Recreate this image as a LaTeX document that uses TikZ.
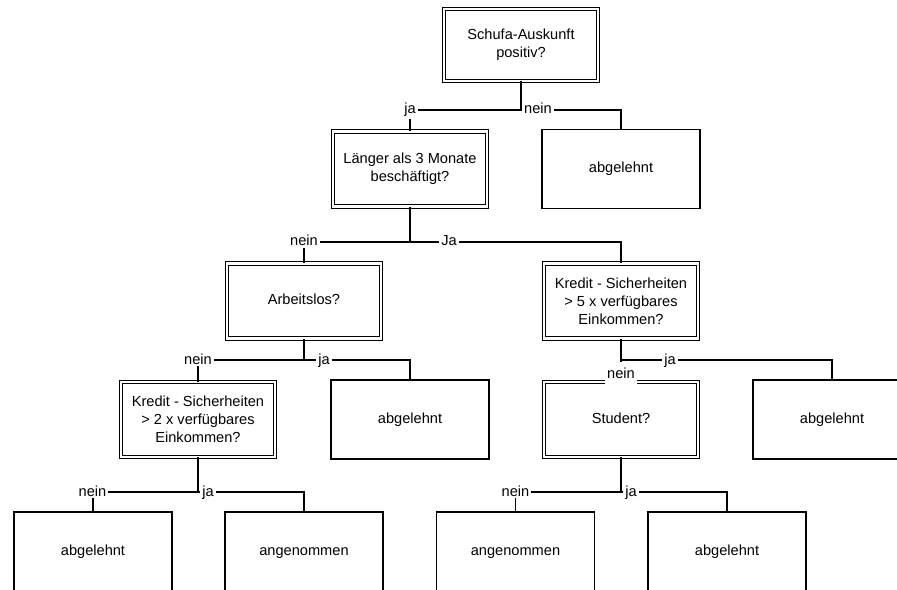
\documentclass[tikz,border=0pt]{standalone}
\usepackage{fontspec}
\setmainfont{Liberation Sans}
\begin{document}
\begin{tikzpicture}[x=1bp,y=-1bp,
  txt/.style={font=\fontsize{14.6bp}{18bp}\selectfont},
  box/.style={txt, draw, line width=1.2bp, minimum width=158bp, minimum height=79bp, align=center, inner sep=2bp},
  dbox/.style={box, double, line width=0.95bp, double distance=2.3bp, minimum width=154bp, minimum height=75bp},
  one/.style={text height=10.5bp, text depth=3bp},
  lbl/.style={txt, fill=white, inner xsep=2bp, inner ysep=1.5bp, anchor=base},
  conn/.style={line width=1.2bp}]
\useasboundingbox (0,0) rectangle (897,590);
\clip (0,0) rectangle (897,590);

% nodes
\node[dbox, minimum height=72bp] (A) at (521,45) {Schufa-Auskunft\\positiv?};
\node[dbox] (B) at (410,169) {Länger als 3 Monate\\beschäftigt?};
\node[box, one] (C) at (621,169) {abgelehnt};
\node[dbox, one] (D) at (304,301) {Arbeitslos?};
\node[dbox] (E) at (621,301) {Kredit - Sicherheiten\\> 5 x verfügbares\\Einkommen?};
\node[dbox] (F) at (198,419.5) {Kredit - Sicherheiten\\> 2 x verfügbares\\Einkommen?};
\node[box, one] (G) at (410,419.5) {abgelehnt};
\node[dbox, one] (H) at (621,419.5) {Student?};
\node[box, one] (I) at (832,419.5) {abgelehnt};
\node[box, one] (J) at (93,551.5) {abgelehnt};
\node[box, one] (K) at (304,551.5) {angenommen};
\node[box, one] (L) at (515.5,551.5) {angenommen};
\node[box, one] (M) at (727,551.5) {abgelehnt};

% junctions
\coordinate (jA) at (A.south |- 0,110);
\coordinate (jB) at (B.south |- 0,242);
\coordinate (jD) at (D.south |- 0,360);
\coordinate (jE) at (E.south |- 0,360);
\coordinate (jF) at (F.south |- 0,492);
\coordinate (jH) at (H.south |- 0,492);

% connectors
\draw[conn] (A.south) -- (jA) -| (B.north);
\draw[conn] (jA) -| (C.north);
\draw[conn] (B.south) -- (jB) -| (D.north);
\draw[conn] (jB) -| (E.north);
\draw[conn] (D.south) -- (jD) -| (F.north);
\draw[conn] (jD) -| (G.north);
\draw[conn] (E.south) -- (jE) -| (I.north);
\draw[conn] (jE) -- (H.north);
\draw[conn] (F.south) -- (jF) -| (J.north);
\draw[conn] (jF) -| (K.north);
\draw[conn] (H.south) -- (jH) -| (L.north);
\draw[conn] (jH) -| (M.north);

% labels
\node[lbl] (la1) at (410,114) {ja};
\node[lbl] (la2) at (538,114) {nein};
\node[lbl] (lb1) at (304,246) {nein};
\node[lbl] (lb2) at (449,246) {Ja};
\node[lbl] (ld1) at (198,364) {nein};
\node[lbl] (ld2) at (324,364) {ja};
\node[lbl, text height=16.3bp, text depth=6.5bp, inner ysep=0bp] (le1) at (621,378) {nein};
\node[lbl] (le2) at (670,364) {ja};
\node[lbl] (lf1) at (92.5,496) {nein};
\node[lbl] (lf2) at (208,496) {ja};
\node[lbl] (lh1) at (515.5,496) {nein};
\node[lbl] (lh2) at (631,496) {ja};
\end{tikzpicture}
\end{document}
